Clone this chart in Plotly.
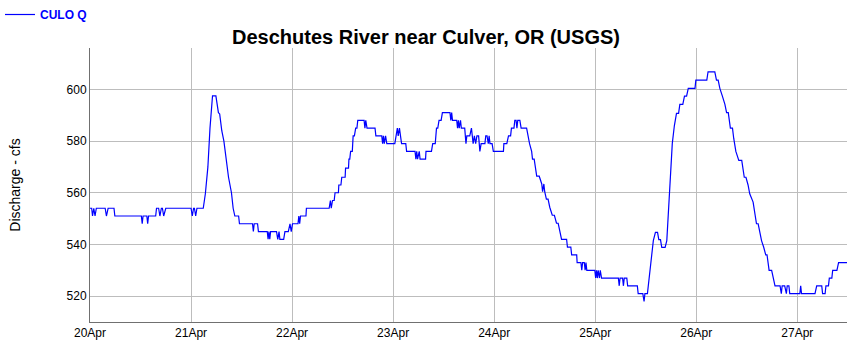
import pandas as pd
import plotly.graph_objects as go

# hours after 20 Apr 00:00 and discharge (cfs)
hours = [
    0.0, 0.4, 0.6, 0.9, 1.2, 1.5, 3.6, 3.9, 4.3, 5.7, 5.9, 12.2, 12.4, 12.6, 13.5, 13.7, 13.9,
    15.6, 15.8, 16.3, 16.6, 16.95, 17.2, 17.5, 18.0, 24.0, 24.3, 24.6, 24.8, 25.1, 25.4, 26.9,
    27.4, 28.0, 28.5, 29.1, 29.9, 30.5, 30.8, 31.3, 31.8, 32.9, 33.6, 34.0, 34.4, 35.3, 35.5,
    38.6, 38.8, 39.0, 39.8, 40.0, 42.1, 42.3, 42.5, 42.7, 42.9, 44.3, 44.6, 44.9, 45.1, 46.0,
    46.3, 47.1, 47.5, 47.8, 48.1, 49.4, 49.6, 49.8, 50.0, 51.3, 51.4, 56.8, 57.1, 57.3, 57.6,
    58.0, 58.2, 59.0, 59.1, 59.6, 59.8, 60.6, 60.7, 61.4, 61.5, 61.7, 61.9, 62.3, 62.5, 62.8,
    63.1, 63.4, 63.6, 65.1, 65.3, 65.5, 65.8, 67.7, 67.9, 69.3, 69.5, 69.7, 69.9, 70.2, 70.5,
    72.4, 72.7, 73.0, 73.2, 73.5, 74.0, 75.0, 75.2, 77.2, 77.4, 77.6, 77.8, 78.2, 78.4, 79.7,
    79.8, 81.1, 81.4, 82.0, 82.3, 82.6, 82.9, 83.4, 83.7, 85.5, 85.7, 85.9, 86.1, 87.1, 87.3,
    87.5, 87.7, 88.0, 88.2, 89.0, 89.3, 89.5, 90.2, 90.6, 90.8, 91.0, 91.3, 91.6, 91.9, 92.3,
    92.6, 92.9, 93.8, 94.0, 94.3, 94.6, 94.8, 95.0, 95.5, 95.8, 98.2, 98.3, 99.0, 99.4, 99.9,
    100.1, 100.7, 100.9, 101.2, 101.4, 101.6, 102.1, 102.4, 103.7, 104.4, 104.9, 105.1, 105.5,
    106.1, 106.7, 107.3, 107.5, 107.8, 108.0, 108.4, 108.8, 109.2, 109.8, 110.3, 110.8, 111.2,
    111.6, 112.0, 113.2, 113.4, 114.2, 114.4, 115.6, 115.7, 116.6, 116.8, 117.0, 117.4, 117.6,
    117.8, 118.0, 119.9, 120.1, 120.3, 120.5, 120.7, 121.0, 121.2, 121.5, 125.5, 125.7, 125.9,
    126.5, 126.7, 126.9, 127.5, 127.7, 130.0, 130.2, 131.3, 131.6, 131.8, 132.4, 132.8, 133.2,
    133.8, 134.3, 134.8, 135.1, 135.5, 135.8, 136.6, 137.0, 137.4, 137.9, 138.3, 138.8, 139.3,
    139.8, 140.1, 140.8, 141.2, 141.7, 142.1, 143.7, 143.9, 146.5, 146.8, 148.4, 148.8, 149.2,
    149.6, 150.2, 150.8, 151.2, 151.6, 152.1, 152.6, 152.9, 153.4, 154.1, 154.8, 155.4, 155.8,
    156.3, 156.7, 157.5, 158.3, 158.7, 159.1, 159.5, 160.0, 160.5, 160.8, 161.3, 161.9, 162.3,
    162.7, 163.9, 164.2, 164.4, 165.0, 165.4, 165.6, 166.0, 166.2, 168.6, 168.8, 169.0, 172.2,
    172.6, 173.8, 174.0, 174.6, 174.8, 175.4, 175.6, 176.2, 176.4, 177.4, 177.8, 179.8,
]
discharge = [
    554, 554, 551, 554, 551, 554, 554, 551, 554, 554, 551, 551, 548, 551, 551, 548, 551,
    551, 554, 554, 551, 554, 554, 551, 554, 554, 551, 554, 554, 551, 554, 554,
    559.6, 570, 585, 597.5, 597.5, 591, 590.5, 584, 580, 566, 560, 554, 551, 551, 548,
    548, 545, 548, 548, 545, 545, 542, 545, 542, 545, 545, 542, 545, 542, 542,
    545, 545, 548, 545, 548, 548, 551, 548, 551, 551, 554, 554, 557, 554, 557,
    557, 560, 560, 563, 563, 566, 566, 569.5, 569.5, 573, 573, 576, 576, 582, 582,
    585, 585, 588, 588, 585, 588, 585, 585, 582, 582, 579, 582, 579, 582, 579,
    579, 582, 585, 582, 585, 579, 579, 576, 576, 573, 576, 573, 576, 573, 573,
    576, 576, 579, 579, 585, 585, 588, 588, 591, 591, 588, 591, 588, 588, 585,
    588, 585, 588, 585, 585, 579, 582, 582, 585, 582, 579, 582, 579, 582, 582,
    576, 579, 579, 582, 582, 579, 582, 579, 579, 576, 576, 579, 579, 582, 582,
    585, 585, 588, 588, 585, 588, 588, 585, 585, 579, 576, 573, 573,
    566.4, 566.4, 563.4, 560.4, 563.4, 560.4, 557.5, 557.5, 554.4, 551.3, 551.3, 548.2, 548.2,
    545, 542, 542, 539, 539, 536, 536, 533, 533, 530, 533, 533, 530,
    533, 530, 530, 527, 530, 527, 530, 527, 530, 527, 527, 524, 527,
    527, 524, 527, 527, 524, 524, 521, 521, 518, 521, 521, 527, 533.7,
    541.5, 544.7, 544.7, 541.9, 541.9, 538.9, 538.9, 541.5, 552, 566, 579, 586, 590.7,
    590.7, 594.2, 594.2, 597.4, 597.4, 600.4, 600.4, 603.6, 603.6, 606.8, 606.8, 603.6, 603.6,
    600.4, 597.4, 594.2, 591, 591, 585, 585, 581, 576, 572.5, 572.5, 566, 566,
    563, 559.6, 556.4, 548, 548, 544.7, 541.5, 539, 536, 536, 530, 530, 527,
    524, 524, 521, 524, 524, 521, 524, 524, 521, 521, 524, 521, 521,
    524, 524, 521, 521, 524, 524, 527, 527, 530, 530, 533, 533,
]

series_name = "CULO Q"
title_text = "Deschutes River near Culver, OR (USGS)"
y_title = "Discharge - cfs"
y_ticks = [520, 540, 560, 580, 600]

start = pd.Timestamp("2024-04-20 00:00")
times = start + pd.to_timedelta(hours, unit="h")

fig = go.Figure()
fig.add_trace(go.Scatter(
    x=times, y=discharge, mode="lines", name=series_name,
    line=dict(color="#0000ff", width=1.2),
))

font_family = "Arial, Liberation Sans, sans-serif"
fig.update_layout(
    width=852, height=363,
    margin=dict(l=90, r=5, t=48, b=41),
    paper_bgcolor="white", plot_bgcolor="white",
    font=dict(family=font_family, color="#000000", size=12),
    title=dict(text="<b>" + title_text + "</b>", x=0.5, xanchor="center",
               y=1 - 37 / 363, yanchor="middle", yref="container",
               font=dict(size=20, family=font_family, color="#000000")),
    showlegend=True,
    legend=dict(xref="container", yref="container", x=0, y=1.0,
                xanchor="left", yanchor="top", orientation="h",
                font=dict(size=12, color="#0000ff", family=font_family, weight="bold"),
                bgcolor="rgba(0,0,0,0)", borderwidth=0,
                tracegroupgap=0, itemwidth=30),
    xaxis=dict(
        range=[start, start + pd.Timedelta(hours=179.8)],
        tickformat="%d%b", dtick=86400000, tick0=start,
        showgrid=True, gridcolor="#bdbdbd", gridwidth=1,
        showline=True, linecolor="#707070", linewidth=1,
        ticks="", tickfont=dict(size=12, color="#000000"),
        zeroline=False,
    ),
    yaxis=dict(
        range=[510, 616], tickvals=y_ticks,
        showgrid=True, gridcolor="#bdbdbd", gridwidth=1,
        showline=True, linecolor="#707070", linewidth=1,
        ticks="", tickfont=dict(size=12, color="#000000"),
        title=dict(text=y_title, font=dict(size=14, color="#000000"), standoff=42),
        zeroline=False,
    ),
)

fig.write_html("out.html")
